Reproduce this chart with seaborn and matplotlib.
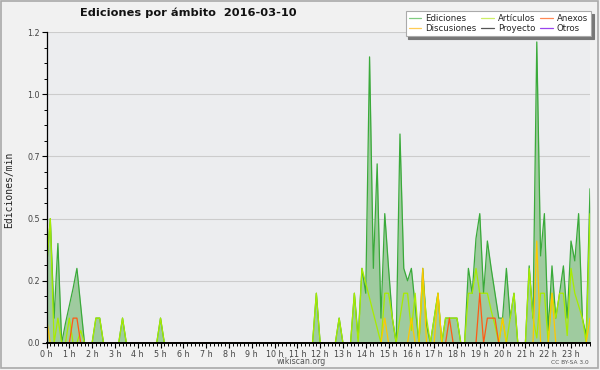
import numpy as np
import pandas as pd
import matplotlib
matplotlib.use('Agg')
import matplotlib.pyplot as plt
from matplotlib.lines import Line2D
from matplotlib.patches import Rectangle
import seaborn as sns

# Ediciones por minuto, tramos de 10 minutos (6 por hora)
ediciones = [
    0.3, 0.5, 0.1, 0.4, 0.0, 0.08,      # 0 h
    0.15, 0.22, 0.3, 0.15, 0.0, 0.0,    # 1 h
    0.0, 0.1, 0.1, 0.0, 0.0, 0.0,       # 2 h
    0.0, 0.0, 0.1, 0.0, 0.0, 0.0,       # 3 h
    0.0, 0.0, 0.0, 0.0, 0.0, 0.0,       # 4 h
    0.1, 0.0, 0.0, 0.0, 0.0, 0.0,       # 5 h
    0.0, 0.0, 0.0, 0.0, 0.0, 0.0,       # 6 h
    0.0, 0.0, 0.0, 0.0, 0.0, 0.0,       # 7 h
    0.0, 0.0, 0.0, 0.0, 0.0, 0.0,       # 8 h
    0.0, 0.0, 0.0, 0.0, 0.0, 0.0,       # 9 h
    0.0, 0.0, 0.0, 0.0, 0.0, 0.0,       # 10 h
    0.0, 0.0, 0.0, 0.0, 0.0, 0.2,       # 11 h
    0.0, 0.0, 0.0, 0.0, 0.0, 0.1,       # 12 h
    0.0, 0.0, 0.0, 0.2, 0.02, 0.3,      # 13 h
    0.2, 1.15, 0.3, 0.72, 0.1, 0.52,    # 14 h
    0.3, 0.1, 0.0, 0.84, 0.3, 0.25,     # 15 h
    0.3, 0.15, 0.0, 0.3, 0.07, 0.0,     # 16 h
    0.1, 0.2, 0.0, 0.1, 0.1, 0.1,       # 17 h
    0.1, 0.0, 0.0, 0.3, 0.2, 0.42,      # 18 h
    0.52, 0.2, 0.41, 0.3, 0.2, 0.1,     # 19 h
    0.1, 0.3, 0.1, 0.2, 0.0, 0.0,       # 20 h
    0.0, 0.31, 0.1, 1.21, 0.35, 0.52,   # 21 h
    0.05, 0.31, 0.1, 0.2, 0.31, 0.1,    # 22 h
    0.41, 0.33, 0.52, 0.1, 0.03, 0.62,  # 23 h
]

articulos = [
    0.3, 0.5, 0.0, 0.1, 0.0, 0.0,
    0.1, 0.0, 0.0, 0.05, 0.0, 0.0,
    0.0, 0.1, 0.1, 0.0, 0.0, 0.0,
    0.0, 0.0, 0.1, 0.0, 0.0, 0.0,
    0.0, 0.0, 0.0, 0.0, 0.0, 0.0,
    0.1, 0.0, 0.0, 0.0, 0.0, 0.0,
    0.0, 0.0, 0.0, 0.0, 0.0, 0.0,
    0.0, 0.0, 0.0, 0.0, 0.0, 0.0,
    0.0, 0.0, 0.0, 0.0, 0.0, 0.0,
    0.0, 0.0, 0.0, 0.0, 0.0, 0.0,
    0.0, 0.0, 0.0, 0.0, 0.0, 0.0,
    0.0, 0.0, 0.0, 0.0, 0.0, 0.2,
    0.0, 0.0, 0.0, 0.0, 0.0, 0.1,
    0.0, 0.0, 0.0, 0.2, 0.0, 0.3,
    0.24, 0.18, 0.12, 0.06, 0.0, 0.2,
    0.2, 0.1, 0.0, 0.1, 0.2, 0.2,
    0.05, 0.2, 0.0, 0.25, 0.1, 0.0,
    0.1, 0.2, 0.0, 0.1, 0.1, 0.1,
    0.1, 0.0, 0.0, 0.2, 0.2, 0.3,
    0.2, 0.2, 0.2, 0.13, 0.07, 0.0,
    0.1, 0.0, 0.1, 0.2, 0.0, 0.0,
    0.0, 0.3, 0.1, 0.02, 0.2, 0.2,
    0.0, 0.2, 0.1, 0.2, 0.2, 0.03,
    0.3, 0.2, 0.15, 0.1, 0.0, 0.52,
]

# solo tramos con valor distinto de cero: {índice: valor}
anexos_nz = {7: 0.1, 8: 0.1, 106: 0.1, 114: 0.2, 116: 0.1, 117: 0.1, 118: 0.1}
discusiones_nz = {0: 0.1, 89: 0.1, 96: 0.1, 99: 0.3, 103: 0.2,
                  120: 0.1, 129: 0.41, 133: 0.2, 143: 0.1}

anexos = [anexos_nz.get(i, 0.0) for i in range(144)]
discusiones = [discusiones_nz.get(i, 0.0) for i in range(144)]
proyecto = [0.0] * 144
otros = [0.0] * 144

hour_labels = [f'{h} h' for h in range(24)]
y_ticks = [0.0, 0.25, 0.5, 0.75, 1.0, 1.25]
y_labels = ['0.0', '0.2', '0.5', '0.7', '1.0', '1.2']

df = pd.DataFrame({
    'hora': np.arange(144) / 6,
    'Ediciones': ediciones,
    'Artículos': articulos,
    'Anexos': anexos,
    'Discusiones': discusiones,
    'Proyecto': proyecto,
    'Otros': otros,
})

sns.set_style('white')
plt.rcParams['font.family'] = ['DejaVu Sans']

fig = plt.figure(figsize=(6, 3.7), dpi=100, facecolor='#f1f1f1')
ax = fig.add_axes([46.5 / 600, 1 - 343 / 370, (590 - 46.5) / 600, (343 - 32) / 370])
ax.set_facecolor('#ecedef')

ax.fill_between(df['hora'], df['Ediciones'], color='#9fcb9f', lw=0, zorder=1.5)
line_colors = {
    'Ediciones': '#3aaa3a',
    'Artículos': '#a8ec00',
    'Anexos': '#ff5a14',
    'Discusiones': '#ffc800',
    'Proyecto': '#555555',
    'Otros': '#9944ee',
}
for name in ['Proyecto', 'Otros', 'Ediciones', 'Artículos', 'Discusiones', 'Anexos']:
    sns.lineplot(data=df, x='hora', y=name, ax=ax, color=line_colors[name],
                 lw=0.9, zorder=2)

ax.set_xlim(0, 143 / 6)
ax.set_ylim(0, 1.25)
ax.set_xticks(range(24))
ax.set_xticklabels(hour_labels)
ax.set_xticks(np.arange(144) / 6, minor=True)
ax.set_yticks(y_ticks)
ax.set_yticklabels(y_labels)
ax.set_yticks(np.arange(0, 1.26, 0.0625), minor=True)
ax.set_xlabel('')
ax.set_ylabel('')

ax.grid(axis='y', color='#cccccc', lw=0.8)
ax.set_axisbelow(True)
for s in ['top', 'right']:
    ax.spines[s].set_visible(False)
for s in ['left', 'bottom']:
    ax.spines[s].set_color('black')
    ax.spines[s].set_zorder(3)
ax.spines['left'].set_linewidth(0.9)
ax.spines['bottom'].set_linewidth(1.4)

ax.tick_params(which='major', direction='out', length=3.5, width=0.8, color='black',
               labelsize=5.8, labelcolor='#444444', pad=1.2)
ax.tick_params(which='minor', direction='out', length=2.5, width=0.7, color='black')
ax.tick_params(axis='x', which='both', bottom=True)
ax.tick_params(axis='y', which='both', left=True)

fig.text(188 / 600, 1 - 13 / 370, 'Ediciones por ámbito  2016-03-10',
         fontsize=8.2, fontweight='bold', ha='center', va='center', color='#111111')
fig.text(9 / 600, 1 - 190 / 370, 'Ediciones/min', rotation=90, fontsize=7,
         family='DejaVu Sans Mono', ha='center', va='center', color='#222222')
fig.text(301 / 600, 1 - 361.5 / 370, 'wikiscan.org', fontsize=5.7,
         ha='center', va='center', color='#555555')
fig.text(589 / 600, 1 - 362.5 / 370, 'CC BY-SA 3.0', fontsize=4.2,
         ha='right', va='center', color='#555555')

legend_colors = {
    'Ediciones': '#80cc80',
    'Artículos': '#ccee66',
    'Anexos': '#ff8855',
    'Discusiones': '#ffcc55',
    'Proyecto': '#555555',
    'Otros': '#9944ee',
}
order = ['Ediciones', 'Discusiones', 'Artículos', 'Proyecto', 'Anexos', 'Otros']
handles = [Line2D([], [], color=legend_colors[n], lw=0.9) for n in order]
leg = fig.legend(handles, order, loc='upper right', ncol=3,
                 bbox_to_anchor=(591 / 600, 1 - 11 / 370), bbox_transform=fig.transFigure,
                 fontsize=6.2, handlelength=1.5, handletextpad=0.4, columnspacing=0.6,
                 labelspacing=0.1, borderpad=0.35, borderaxespad=0, frameon=True,
                 fancybox=False, edgecolor='#aaaaaa', facecolor='white', framealpha=1,
                 shadow={'color': '#777777', 'alpha': 1})
leg.get_frame().set_linewidth(0.8)

fig.add_artist(Rectangle((0.5 / 600, 2.5 / 370), 597.5 / 600, 367 / 370,
                         transform=fig.transFigure, fill=False,
                         edgecolor='#aaaaaa', lw=1.2))

fig.savefig('out.png', dpi=100, facecolor=fig.get_facecolor())
